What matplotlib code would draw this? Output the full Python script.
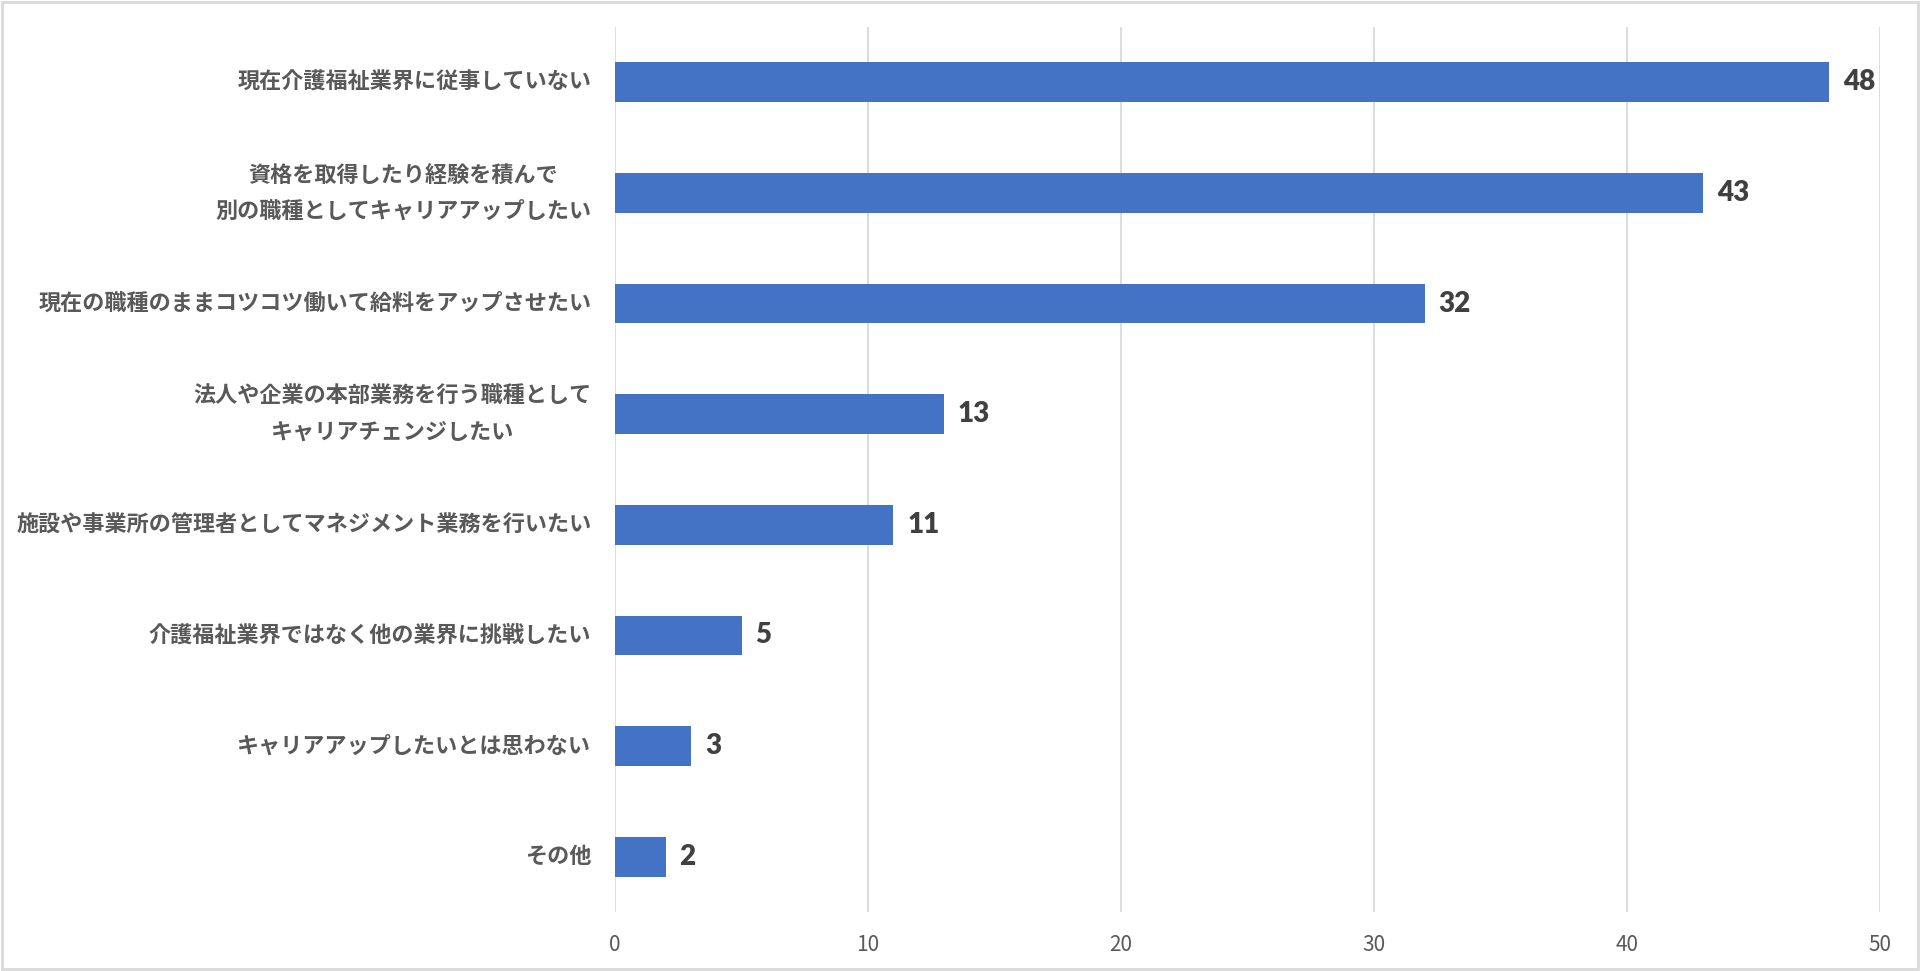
import matplotlib.pyplot as plt
from matplotlib.patches import Rectangle

plt.rcParams['font.family'] = ['Noto Sans CJK JP', 'DejaVu Sans']

# data ------------------------------------------------------------------
categories = [
    '現在介護福祉業界に従事していない',
    '資格を取得したり経験を積んで\n別の職種としてキャリアアップしたい',
    '現在の職種のままコツコツ働いて給料をアップさせたい',
    '法人や企業の本部業務を行う職種として\nキャリアチェンジしたい',
    '施設や事業所の管理者としてマネジメント業務を行いたい',
    '介護福祉業界ではなく他の業界に挑戦したい',
    'キャリアアップしたいとは思わない',
    'その他',
]
counts = [48, 43, 32, 13, 11, 5, 3, 2]
x_ticks = [0, 10, 20, 30, 40, 50]

# plot ------------------------------------------------------------------
fig = plt.figure(figsize=(19.2, 9.71), dpi=100)
ax = fig.add_axes([615/1920, 59/971, 1265/1920, 885/971])

ypos = list(range(len(categories)))
bars = ax.barh(ypos, counts, height=0.36, color='#4472C4', zorder=3)

ax.set_ylim(len(categories) - 0.5, -0.5)
ax.set_xlim(0, 50)
ax.set_xticks(x_ticks)
ax.set_yticks(ypos)
ax.set_yticklabels(categories, fontsize=15.9, color='#595959',
                   fontweight='bold', linespacing=1.7, ha='right',
                   va='center', multialignment='center')
ax.tick_params(axis='y', length=0, pad=17)
ax.tick_params(axis='x', length=0, pad=16, labelsize=15, labelcolor='#595959')
ax.grid(axis='x', color='#d9d9d9', lw=1.3, zorder=0)
for s in ax.spines.values():
    s.set_visible(False)

# value labels
for b, v in zip(bars, counts):
    ax.text(b.get_width() + 0.55, b.get_y() + b.get_height()/2, str(v),
            va='center', ha='left', fontsize=20, fontweight='heavy',
            color='#404040', family=['Lato', 'DejaVu Sans'])

# light frame round the whole chart
fig.patches.append(Rectangle((0.001, 0.002), 0.998, 0.996, transform=fig.transFigure,
                             fill=False, edgecolor='#d9d9d9', lw=2))

fig.savefig('out.png', dpi=100, facecolor='white')
